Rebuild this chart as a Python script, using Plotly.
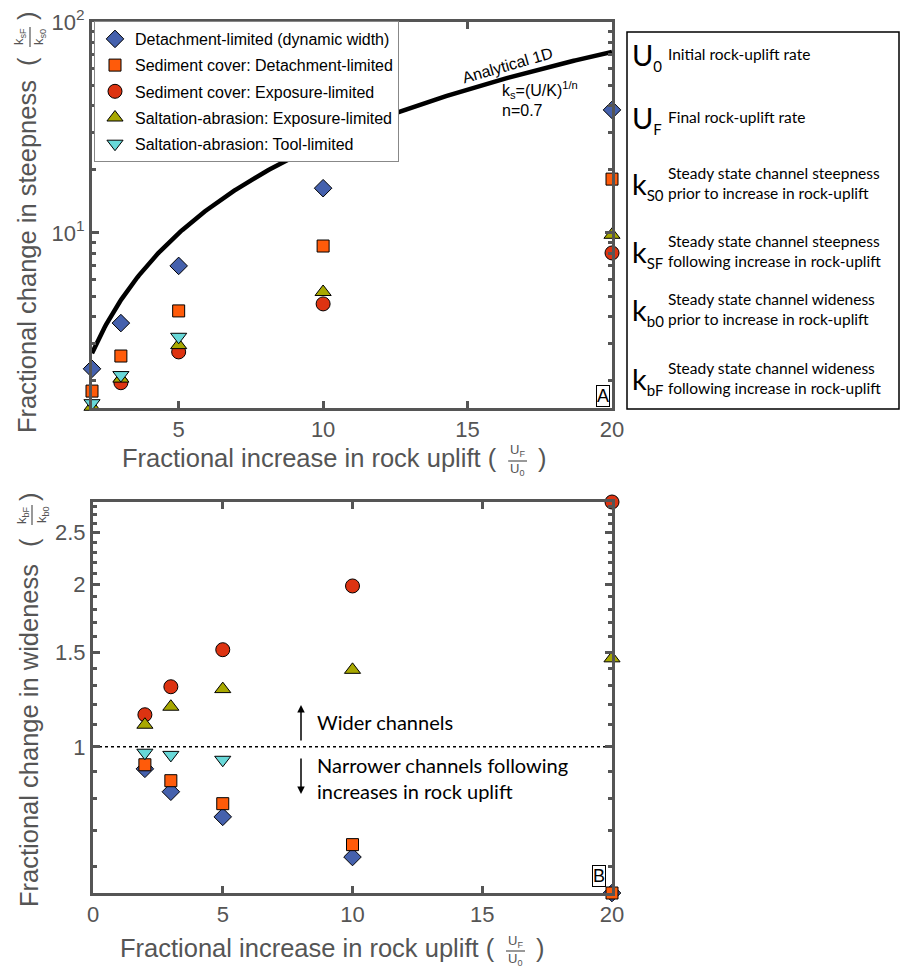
import numpy as np
import plotly.graph_objects as go

W, H = 900, 968

# ---- data -------------------------------------------------------------
uplift_ratio = [2, 3, 5, 10, 20]
tool_ratio = [2, 3, 5]

# fractional change in steepness (k_sF / k_s0)
steep_detach_dyn = [2.27, 3.74, 6.98, 16.3, 38.3]
steep_cover_detach = [1.78, 2.61, 4.27, 8.67, 18.0]
steep_cover_expo = [1.48, 1.95, 2.73, 4.61, 8.04]
steep_salt_expo = [1.50, 2.04, 2.94, 5.25, 9.8]
steep_salt_tool = [1.56, 2.12, 3.22]

# fractional change in wideness (k_bF / k_b0)
wide_detach_dyn = [0.91, 0.825, 0.741, 0.624, 0.535]
wide_cover_detach = [0.926, 0.865, 0.784, 0.658, 0.535]
wide_cover_expo = [1.147, 1.293, 1.515, 1.99, 2.85]
wide_salt_expo = [1.099, 1.187, 1.28, 1.39, 1.46]
wide_salt_tool = [0.975, 0.966, 0.946]

series_names = [
    "Detachment-limited (dynamic width)",
    "Sediment cover: Detachment-limited",
    "Sediment cover: Exposure-limited",
    "Saltation-abrasion: Exposure-limited",
    "Saltation-abrasion: Tool-limited",
]

# analytical 1D solution k_s = (U/K)^(1/n)
n_exp = 0.7
curve_ratio = np.linspace(2, 20, 300)
curve_steep = curve_ratio ** (1.0 / n_exp)

# ---- styling ----------------------------------------------------------
symbols = ["diamond", "square", "circle", "triangle-up", "triangle-down"]
colors = ["#4561AD", "#FF5B0A", "#DD3311", "#A8A800", "#68D8D8"]
sizes = [13.5, 12, 14, 14, 14]
AX = "#555555"
FONT = "Liberation Sans"
KEYFONT = "Lato"


def px(x):
    return x / W


def py(y):
    return 1 - y / H


fig = go.Figure()

fig.add_trace(go.Scatter(
    x=curve_ratio, y=curve_steep, mode="lines",
    line=dict(color="black", width=4.5), showlegend=False,
    xaxis="x", yaxis="y", hoverinfo="skip"))

steep_x = [uplift_ratio, uplift_ratio, uplift_ratio, uplift_ratio, tool_ratio]
steep_y = [steep_detach_dyn, steep_cover_detach, steep_cover_expo,
           steep_salt_expo, steep_salt_tool]
wide_y = [wide_detach_dyn, wide_cover_detach, wide_cover_expo,
          wide_salt_expo, wide_salt_tool]

for i, name in enumerate(series_names):
    mk = dict(symbol=symbols[i], color=colors[i], size=sizes[i],
              line=dict(color="black", width=1))
    fig.add_trace(go.Scatter(
        x=steep_x[i], y=steep_y[i], mode="markers", name=name, marker=mk,
        legendgroup=f"g{i}", xaxis="x", yaxis="y", cliponaxis=False))

# reference line: no change in width
fig.add_trace(go.Scatter(
    x=[0, 20], y=[1, 1], mode="lines",
    line=dict(color="black", width=1.5, dash="dot"),
    showlegend=False, xaxis="x2", yaxis="y2", hoverinfo="skip"))

for i, name in enumerate(series_names):
    mk = dict(symbol=symbols[i], color=colors[i], size=sizes[i],
              line=dict(color="black", width=1))
    fig.add_trace(go.Scatter(
        x=steep_x[i], y=wide_y[i], mode="markers", name=name, marker=mk,
        legendgroup=f"g{i}", xaxis="x2", yaxis="y2", cliponaxis=False,
        showlegend=False))

axis_common = dict(
    showline=True, linecolor=AX, linewidth=3, mirror="allticks",
    ticks="inside", ticklen=7, tickwidth=2.5, tickcolor=AX,
    showgrid=False, zeroline=False, automargin=False,
    tickfont=dict(family=FONT, size=22, color=AX),
)
minor_common = dict(ticks="inside", ticklen=4, tickwidth=2.5, tickcolor=AX, showgrid=False)

steep_minor = [v * d for d in (1, 10) for v in range(2, 10)]
wide_major = [1, 1.5, 2, 2.5]
wide_minor = [round(0.6 + 0.1 * k, 1) for k in range(23)]
wide_minor = [v for v in wide_minor if v not in wide_major]

fig.update_layout(
    template="none",
    width=W, height=H,
    margin=dict(l=0, r=0, t=0, b=0, autoexpand=False),
    paper_bgcolor="white", plot_bgcolor="white",
    font=dict(family=FONT, color=AX),
    xaxis=dict(domain=[px(92), px(612)], anchor="y", range=[2, 20],
               tickvals=[5, 10, 15, 20], **axis_common),
    yaxis=dict(domain=[py(408), py(22)], anchor="x", type="log",
               range=[np.log10(1.48), 2],
               tickvals=[10, 100], ticktext=["10<sup>1</sup>", "10<sup>2</sup>"],
               minor=dict(tickvals=steep_minor, **minor_common),
               **axis_common),
    xaxis2=dict(domain=[px(93), px(612)], anchor="y2", range=[0, 20],
                tickvals=[0, 5, 10, 15, 20], **axis_common),
    yaxis2=dict(domain=[py(893), py(502)], anchor="x2", type="log",
                range=[np.log10(0.535), np.log10(2.85)],
                tickvals=wide_major, ticktext=["1", "1.5", "2", "2.5"],
                minor=dict(tickvals=wide_minor, **minor_common),
                **axis_common),
    legend=dict(x=px(94), y=py(21), xanchor="left", yanchor="top",
                bgcolor="white", bordercolor="#888888", borderwidth=1,
                font=dict(family=FONT, size=16, color="black"),
                itemsizing="trace", tracegroupgap=2.4),
)

ann = []


def text(x, y, t, size, color="black", family=FONT, angle=0, xanchor="center",
         yanchor="middle", **kw):
    ann.append(dict(x=px(x), y=py(y), xref="paper", yref="paper", text=t,
                    showarrow=False, textangle=angle, xanchor=xanchor,
                    yanchor=yanchor, font=dict(family=family, size=size, color=color),
                    **kw))


shapes = []


def hline(x0, x1, y, color=AX, width=1.2):
    shapes.append(dict(type="line", xref="paper", yref="paper",
                       x0=px(x0), x1=px(x1), y0=py(y), y1=py(y),
                       line=dict(color=color, width=width)))


def vline(x, y0, y1, color=AX, width=1.2):
    shapes.append(dict(type="line", xref="paper", yref="paper",
                       x0=px(x), x1=px(x), y0=py(y0), y1=py(y1),
                       line=dict(color=color, width=width)))


# top panel y title with stacked fraction
text(27, 257, "Fractional change in steepness", 25.5, AX, angle=-90)
text(27, 62, "(", 25.5, AX, angle=-90)
text(27, 16, ")", 25.5, AX, angle=-90)
text(20, 37, "k<sub>sF</sub>", 13, AX, angle=-90)
text(40, 37, "k<sub>s0</sub>", 13, AX, angle=-90)
vline(30, 27, 47)

# bottom panel y title
text(29, 736, "Fractional change in wideness", 25.5, AX, angle=-90)
text(29, 543, "(", 25.5, AX, angle=-90)
text(29, 497, ")", 25.5, AX, angle=-90)
text(22, 515, "k<sub>bF</sub>", 13, AX, angle=-90)
text(42, 515, "k<sub>b0</sub>", 13, AX, angle=-90)
vline(32, 505, 525)

# x titles
for (y0, xs) in ((458, 0), (948, -2)):
    text(120 + xs, y0, "Fractional increase in rock uplift (", 25.5, AX,
         xanchor="left")
    text(517 + xs, y0 - 7, "U<sub>F</sub>", 13, AX)
    text(517 + xs, y0 + 11, "U<sub>0</sub>", 13, AX)
    hline(508 + xs, 527 + xs, y0 + 3)
    text(542 + xs, y0, ")", 25.5, AX)

# analytical curve labels
text(507, 66, "Analytical 1D", 16, angle=-16)
text(500, 90, "k<sub>s</sub>=(U/K)<sup>1/n</sup>", 16, xanchor="left")
text(500, 111, "n=0.7", 16, xanchor="left")

# panel letters
text(602.5, 396, "A", 18, "black", bgcolor="white", bordercolor="black",
     borderwidth=1, borderpad=0)
text(598.5, 876, "B", 18, "black", bgcolor="white", bordercolor="black",
     borderwidth=1, borderpad=0)

# width annotations
text(315, 722, "Wider channels", 20, family=KEYFONT, xanchor="left")
text(315, 778, "Narrower channels following<br>increases in rock uplift", 20,
     family=KEYFONT, xanchor="left", align="left")
ann.append(dict(x=px(301), y=py(705), xref="paper", yref="paper", text="",
                showarrow=True, arrowhead=2, arrowsize=1, arrowwidth=1.5,
                arrowcolor="black", ax=0, ay=37))
ann.append(dict(x=px(301), y=py(794), xref="paper", yref="paper", text="",
                showarrow=True, arrowhead=2, arrowsize=1, arrowwidth=1.5,
                arrowcolor="black", ax=0, ay=-37))

# symbol key panel
shapes.append(dict(type="rect", xref="paper", yref="paper",
                   x0=px(627), x1=px(899), y0=py(409), y1=py(32),
                   line=dict(color="black", width=1.5)))
key_rows = [
    ("U", "0", "Initial rock-uplift rate", 54),
    ("U", "F", "Final rock-uplift rate", 117),
    ("k", "S0", "Steady state channel steepness<br>prior to increase in rock-uplift", 183),
    ("k", "SF", "Steady state channel steepness<br>following increase in rock-uplift", 251),
    ("k", "b0", "Steady state channel wideness<br>prior to increase in rock-uplift", 309),
    ("k", "bF", "Steady state channel wideness<br>following increase in rock-uplift", 378),
]
for big, sub, desc, yc in key_rows:
    text(630, yc + 2, big + "<sub><span style='font-size:15px'>" + sub + "</span></sub>",
         29, family=KEYFONT, xanchor="left")
    text(666, yc, desc, 15.5, family=KEYFONT, xanchor="left", align="left")

fig.update_layout(annotations=ann, shapes=shapes)

fig.write_html("out.html")
